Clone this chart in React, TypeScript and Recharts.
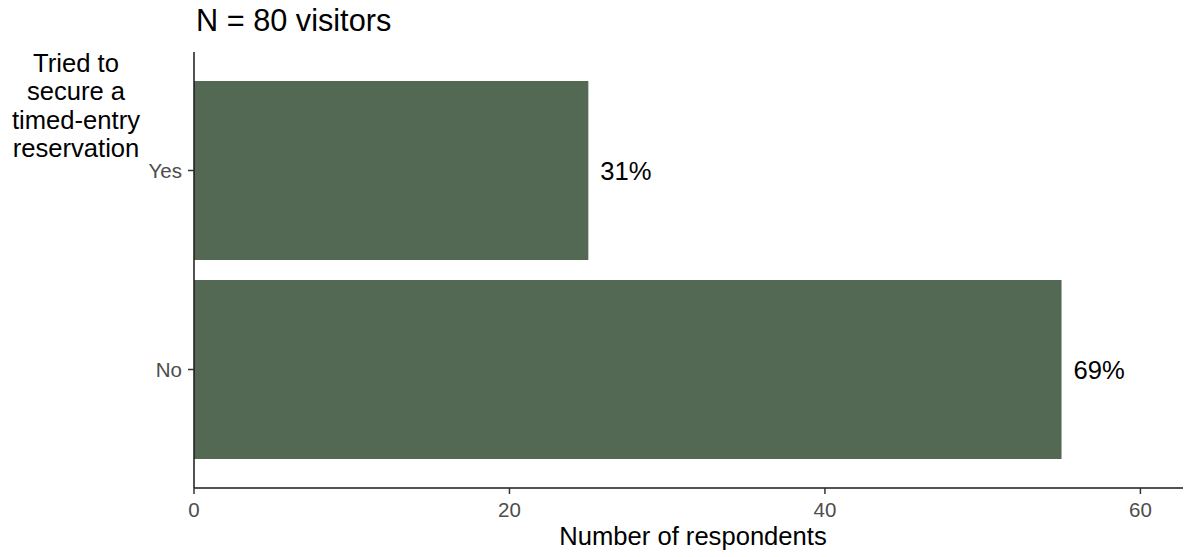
import { BarChart, Bar, XAxis, YAxis, LabelList } from 'recharts'

const answers = ['Yes', 'No']
const counts = [25, 55]
const shares = ['31%', '69%']
const xTicks = [0, 20, 40, 60]

const data = answers.map((answer, i) => ({ answer, count: counts[i], share: shares[i] }))

const font = '"Liberation Sans", Arial, sans-serif'
const tickStyle = { fontSize: 20.5, fill: '#4d4d4d', fontFamily: font }

export default function App() {
  return (
    <div style={{ position: 'absolute', left: 0, top: 0, width: 1185, height: 557, fontFamily: font, background: '#fff' }}>
      <BarChart
        width={1185}
        height={557}
        data={data}
        layout="vertical"
        margin={{ top: 52, right: 2, left: 0, bottom: 0 }}
      >
        <XAxis
          type="number"
          domain={[0, 62.7]}
          ticks={xTicks}
          allowDataOverflow
          tick={tickStyle}
          tickSize={6}
          tickMargin={8}
          height={69}
          axisLine={{ stroke: '#1a1a1a', strokeWidth: 1.5 }}
          tickLine={{ stroke: '#333', strokeWidth: 1.5 }}
        />
        <YAxis
          type="category"
          dataKey="answer"
          width={194}
          padding={{ top: 19, bottom: 19 }}
          tick={tickStyle}
          tickSize={6}
          tickMargin={6}
          axisLine={{ stroke: '#1a1a1a', strokeWidth: 1.5 }}
          tickLine={{ stroke: '#333', strokeWidth: 1.5 }}
        />
        <Bar dataKey="count" fill="#536953" barSize={179} isAnimationActive={false}>
          <LabelList dataKey="share" position="right" offset={12} fill="#000" fontSize={25.6} fontFamily={font} />
        </Bar>
      </BarChart>
      <div style={{ position: 'absolute', left: 196, top: 6, fontSize: 30.7, lineHeight: 1, color: '#000', whiteSpace: 'nowrap' }}>
        N = 80 visitors
      </div>
      <div style={{ position: 'absolute', left: 0, top: 49, width: 152, textAlign: 'center', fontSize: 25.6, lineHeight: '28.3px', color: '#000' }}>
        Tried to<br />secure a<br />timed-entry<br />reservation
      </div>
      <div style={{ position: 'absolute', left: 443, top: 524, width: 500, textAlign: 'center', fontSize: 25.6, lineHeight: 1, color: '#000' }}>
        Number of respondents
      </div>
    </div>
  )
}
